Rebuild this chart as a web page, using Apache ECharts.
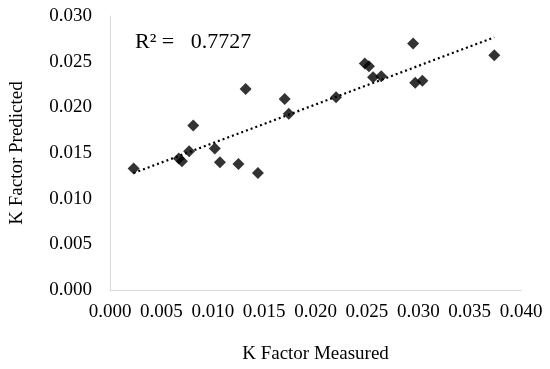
<!DOCTYPE html>
<html>
<head>
<meta charset="utf-8">
<script src="https://cdn.jsdelivr.net/npm/echarts@6/dist/echarts.min.js"></script>
<style>html,body{margin:0;padding:0;background:#fff}#c{width:550px;height:369px}</style>
</head>
<body>
<div id="c"></div>
<script>
var measured  = [0.0023, 0.0067, 0.0070, 0.0077, 0.0081, 0.0102, 0.0107, 0.0125, 0.0132, 0.0144, 0.0170, 0.0174, 0.0220, 0.0248, 0.0252, 0.0256, 0.0264, 0.0295, 0.0297, 0.0304, 0.0374];
var predicted = [0.0133, 0.0144, 0.0141, 0.0152, 0.0180, 0.0155, 0.0140, 0.0138, 0.0220, 0.0128, 0.0209, 0.0193, 0.0211, 0.0248, 0.0245, 0.0233, 0.0234, 0.0270, 0.0227, 0.0229, 0.0257];
var xTicks = ['0.000','0.005','0.010','0.015','0.020','0.025','0.030','0.035','0.040'];
var yTicks = ['0.000','0.005','0.010','0.015','0.020','0.025','0.030'];
var r2Label = 'R² =   0.7727';
var xTitle = 'K Factor Measured';
var yTitle = 'K Factor Predicted';

var pts = measured.map(function(x,i){return [x, predicted[i]];});
// least-squares trendline through the data (as the original spreadsheet does)
var n = pts.length, sx=0, sy=0, sxx=0, sxy=0;
pts.forEach(function(p){sx+=p[0];sy+=p[1];sxx+=p[0]*p[0];sxy+=p[0]*p[1];});
var slope = (n*sxy - sx*sy)/(n*sxx - sx*sx);
var icpt = (sy - slope*sx)/n;
var xmin = Math.min.apply(null, measured), xmax = Math.max.apply(null, measured);
var trend = [[xmin, icpt+slope*xmin],[xmax, icpt+slope*xmax]];

var font = "'Liberation Serif','Times New Roman',serif";
var chart = echarts.init(document.getElementById('c'), null, {renderer:'canvas'});
chart.setOption({
  animation:false,
  backgroundColor:'#fff',
  grid:{left:101, right:29, top:16, bottom:71, containLabel:false},
  xAxis:{
    type:'value', min:0, max:0.04, interval:0.005,
    name:xTitle, nameLocation:'middle', nameGap:55,
    nameTextStyle:{fontFamily:font, fontSize:19, color:'#000'},
    axisLine:{show:true, lineStyle:{color:'#d9d9d9', width:1}},
    axisTick:{show:false}, splitLine:{show:false},
    axisLabel:{fontFamily:font, fontSize:19, color:'#000', margin:13,
      formatter:function(v){return xTicks[Math.round(v/0.005)];}}
  },
  yAxis:{
    type:'value', min:0, max:0.03, interval:0.005,
    name:yTitle, nameLocation:'middle', nameGap:83, nameRotate:90,
    nameTextStyle:{fontFamily:font, fontSize:19, color:'#000'},
    axisLine:{show:true, lineStyle:{color:'#d9d9d9', width:1}},
    axisTick:{show:false}, splitLine:{show:false},
    axisLabel:{fontFamily:font, fontSize:19, color:'#000', margin:18,
      formatter:function(v){return yTicks[Math.round(v/0.005)];}}
  },
  graphic:[{type:'text', left:135, top:31,
    style:{text:r2Label, font:'22px '+font, fill:'#000'}}],
  series:[
    {type:'line', data:trend, symbol:'none', silent:true,
     lineStyle:{color:'#000', width:2.2, type:[2,3]}, z:1},
    {type:'scatter', data:pts, symbol:'diamond', symbolSize:12,
     itemStyle:{color:'#000'}, z:2}
  ]
});
</script>
</body>
</html>
